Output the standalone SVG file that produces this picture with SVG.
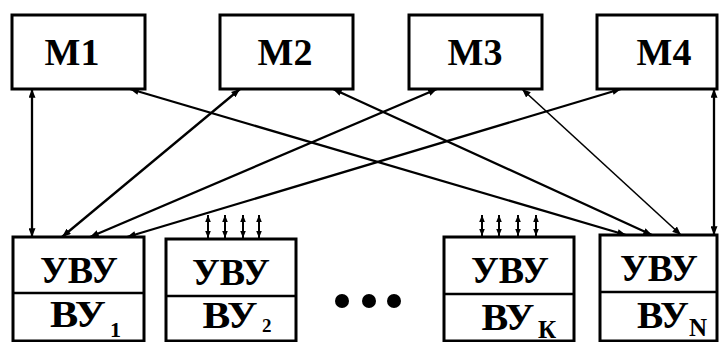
<svg xmlns="http://www.w3.org/2000/svg" width="719" height="342" viewBox="0 0 719 342">
  <style>
    .box { fill: #fff; stroke: #000; stroke-width: 3; }
    .div { stroke: #000; stroke-width: 2.5; }
    .lbl { font-family: "Liberation Serif", "Times New Roman", serif; font-weight: bold; fill: #000; text-anchor: middle; }
    .big { font-size: 38px; }
    .sub { font-size: 22px; text-anchor: start; }
    .link { stroke: #000; stroke-width: 2.3; fill: none; marker-start: url(#head); marker-end: url(#head); }
    .thin { stroke-width: 1.6; }
    .io { stroke: #000; stroke-width: 2; marker-start: url(#small); marker-end: url(#small); }
  </style>
  <defs>
    <marker id="head" viewBox="0 0 10 8" refX="10" refY="4" markerWidth="9" markerHeight="7" markerUnits="userSpaceOnUse" orient="auto-start-reverse">
      <path d="M0,0 L10,4 L0,8 Z" fill="#000"/>
    </marker>
    <marker id="small" viewBox="0 0 10 8" refX="10" refY="4" markerWidth="7" markerHeight="6" markerUnits="userSpaceOnUse" orient="auto-start-reverse">
      <path d="M0,0 L10,4 L0,8 Z" fill="#000"/>
    </marker>
  </defs>

  <!-- memory modules -->
  <g id="m1">
    <rect class="box" x="12" y="15" width="133" height="74"/>
    <text class="lbl big" x="72" y="65">M1</text>
  </g>
  <g id="m2">
    <rect class="box" x="220" y="15" width="133" height="74"/>
    <text class="lbl big" x="285" y="65">M2</text>
  </g>
  <g id="m3">
    <rect class="box" x="409" y="15" width="133" height="74"/>
    <text class="lbl big" x="475" y="65">M3</text>
  </g>
  <g id="m4">
    <rect class="box" x="597" y="15" width="120" height="74"/>
    <text class="lbl big" x="664" y="65">M4</text>
  </g>

  <!-- connections between memory modules and device controllers -->
  <g id="connectors">
    <line class="link" x1="32" y1="89" x2="32" y2="237"/>
    <line class="link" x1="130" y1="89" x2="626" y2="235"/>
    <line class="link" x1="240" y1="89" x2="62" y2="237"/>
    <line class="link" x1="333" y1="89" x2="652" y2="235"/>
    <line class="link" x1="437" y1="89" x2="90" y2="237"/>
    <line class="link thin" x1="522" y1="89" x2="681" y2="235"/>
    <line class="link" x1="621" y1="89" x2="127" y2="237"/>
    <line class="link" x1="714" y1="89" x2="714" y2="235"/>
    <!-- buses of devices 2 and K -->
    <line class="io" x1="208" y1="215" x2="208" y2="238"/>
    <line class="io" x1="225" y1="215" x2="225" y2="238"/>
    <line class="io" x1="243" y1="215" x2="243" y2="238"/>
    <line class="io" x1="259" y1="215" x2="259" y2="238"/>
    <line class="io" x1="482" y1="215" x2="482" y2="236"/>
    <line class="io" x1="499" y1="215" x2="499" y2="236"/>
    <line class="io" x1="518" y1="215" x2="518" y2="236"/>
    <line class="io" x1="536" y1="215" x2="536" y2="236"/>
  </g>

  <!-- device 1 -->
  <g id="dev1">
    <rect class="box" x="13" y="237" width="131" height="104"/>
    <line class="div" x1="13" y1="293" x2="144" y2="293"/>
    <text class="lbl big" x="79" y="283">УВУ</text>
    <text class="lbl big" x="78" y="327" textLength="56" lengthAdjust="spacingAndGlyphs">ВУ</text>
    <text class="lbl sub" x="110" y="337">1</text>
  </g>
  <!-- device 2 -->
  <g id="dev2">
    <rect class="box" x="166" y="239" width="130" height="102"/>
    <line class="div" x1="166" y1="296" x2="296" y2="296"/>
    <text class="lbl big" x="231" y="285">УВУ</text>
    <text class="lbl big" x="230" y="328" textLength="55" lengthAdjust="spacingAndGlyphs">ВУ</text>
    <text class="lbl sub" x="262" y="332" style="font-size:19px">2</text>
  </g>

  <!-- ellipsis -->
  <g id="dots">
    <circle cx="342" cy="301" r="7"/>
    <circle cx="369" cy="301" r="7"/>
    <circle cx="394" cy="301" r="7"/>
  </g>

  <!-- device K -->
  <g id="devk">
    <rect class="box" x="444" y="237" width="130" height="104"/>
    <line class="div" x1="444" y1="294" x2="574" y2="294"/>
    <text class="lbl big" x="510" y="283">УВУ</text>
    <text class="lbl big" x="508" y="330" textLength="53" lengthAdjust="spacingAndGlyphs">ВУ</text>
    <text class="lbl sub" x="538" y="338" style="font-size:25px">К</text>
  </g>
  <!-- device N -->
  <g id="devn">
    <rect class="box" x="600" y="235" width="117" height="106"/>
    <line class="div" x1="600" y1="292" x2="717" y2="292"/>
    <text class="lbl big" x="659" y="281">УВУ</text>
    <text class="lbl big" x="663" y="328" textLength="52" lengthAdjust="spacingAndGlyphs">ВУ</text>
    <text class="lbl sub" x="689" y="336" style="font-size:25px">N</text>
  </g>
</svg>
